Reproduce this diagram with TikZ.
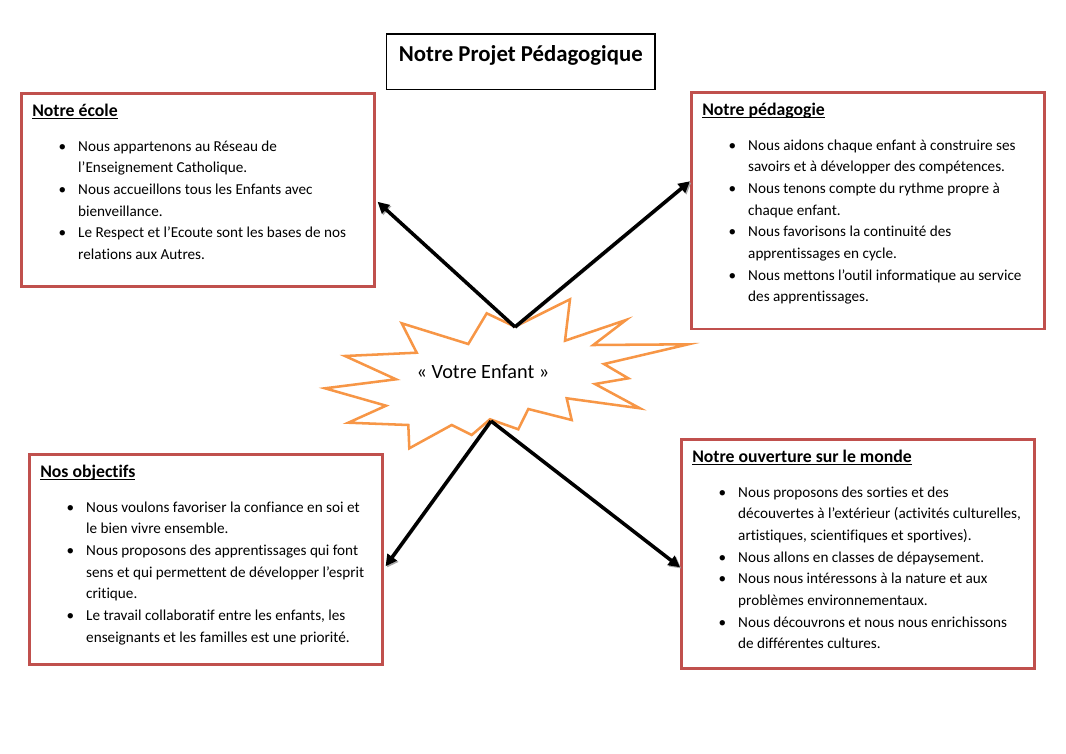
\documentclass[tikz,border=0pt]{standalone}
\usepackage{fontspec}
\setmainfont{Carlito}[Ligatures=CommonOff]
\usepackage{xcolor}
\definecolor{BoxRed}{HTML}{C0504D}
\definecolor{StarOrange}{HTML}{F79646}
\usetikzlibrary{arrows.meta,calc}
\newenvironment{puces}{\list{\textbullet}{\leftmargin=36.3pt \labelsep=9.5pt \labelwidth=26.8pt \topsep=10.5pt \partopsep=0pt \itemsep=0pt \parsep=0pt}}{\endlist}
\newcommand{\souligne}[1]{\underline{\smash{#1}}}
\newcommand{\panelbody}[3]{\begin{minipage}[t][#1][t]{261.5pt}\raggedright\strut{\fontsize{14}{17.1}\selectfont\bfseries\souligne{#2}}\par\begin{puces}#3\end{puces}\end{minipage}}

\begin{document}
\begin{tikzpicture}[x=0.79pt, y=-0.79pt, every node/.style={font=\fontsize{12}{17.1}\selectfont}, panel/.style={draw=BoxRed, line width=2pt, inner xsep=8.7pt, inner ysep=6.2pt, anchor=north west}, arrowline/.style={-{Triangle[length=9pt, width=9pt]}, line width=2.8pt, black, preaction={draw=black!35, transform canvas={shift={(1pt,-1pt)}}}}]
    \useasboundingbox (0,0) rectangle (1066,754);

    \node[draw, line width=1pt, minimum width=212pt, inner ysep=4pt, text height=17.6pt, text depth=18.4pt, font=\fontsize{18}{22}\selectfont\bfseries] (title) at (520.8,61.9) {Notre Projet Pédagogique};

    \node[panel] (ecole) at (20,92) {\panelbody{140.1pt}{Notre école}{%
        \item Nous appartenons au Réseau de\\ l’Enseignement Catholique.
        \item Nous accueillons tous les Enfants avec\\ bienveillance.
        \item Le Respect et l’Ecoute sont les bases de nos\\ relations aux Autres.}};
    \node[panel] (pedagogie) at (690,91) {\panelbody{174.8pt}{Notre pédagogie}{%
        \item Nous aidons chaque enfant à construire ses\\ savoirs et à développer des compétences.
        \item Nous tenons compte du rythme propre à\\ chaque enfant.
        \item Nous favorisons la continuité des\\ apprentissages en cycle.
        \item Nous mettons l’outil informatique au service\\ des apprentissages.}};
    \node[panel] (objectifs) at (28,453) {\panelbody{153.5pt}{Nos objectifs}{%
        \item Nous voulons favoriser la confiance en soi et\\ le bien vivre ensemble.
        \item Nous proposons des apprentissages qui font\\ sens et qui permettent de développer l’esprit\\ critique.
        \item Le travail collaboratif entre les enfants, les\\ enseignants et les familles est une priorité.}};
    \node[panel] (ouverture) at (680,438) {\panelbody{168.5pt}{Notre ouverture sur le monde}{%
        \item Nous proposons des sorties et des\\ découvertes à l’extérieur (activités culturelles,\\ artistiques, scientifiques et sportives).
        \item Nous allons en classes de dépaysement.
        \item Nous nous intéressons à la nature et aux\\ problèmes environnementaux.
        \item Nous découvrons et nous nous enrichissons\\ de différentes cultures.}};

    % explosion shape
    \draw[StarOrange, line width=2pt, line join=miter, fill=white] (401.7,323.3) -- (468.3,344) -- (486.7,313.3) -- (515,326.7) -- (570,299.3) -- (565,340.7) -- (626,320) -- (593.3,345) -- (688.3,344.3) -- (604,364) -- (628.3,378.3) -- (595,384) -- (640,408.3) -- (566.7,398.3) -- (571.7,420) -- (528.3,409) -- (518.3,429.3) -- (490,419.3) -- (471.7,435) -- (451.7,425) -- (409.3,448.3) -- (408.3,425) -- (348.3,422.7) -- (386,405.7) -- (325,388.3) -- (396,379.3) -- (345,356) -- (416.7,352.7) -- cycle;
    \node[font=\fontsize{16}{19}\selectfont] (enfant) at (483,372) {« Votre Enfant »};
    \coordinate (startup) at (515,327);
    \coordinate (startdown) at (491,421);

    \draw[arrowline] (startup) -- ($(ecole.east)+(2,12)$);
    \draw[arrowline] (startup) -- ($(pedagogie.west)+(0,-29.5)$);
    \draw[arrowline] (startdown) -- ($(objectifs.east)+(2,7)$);
    \draw[arrowline] (startdown) -- ($(ouverture.west)+(0,13.5)$);
\end{tikzpicture}
\end{document}
